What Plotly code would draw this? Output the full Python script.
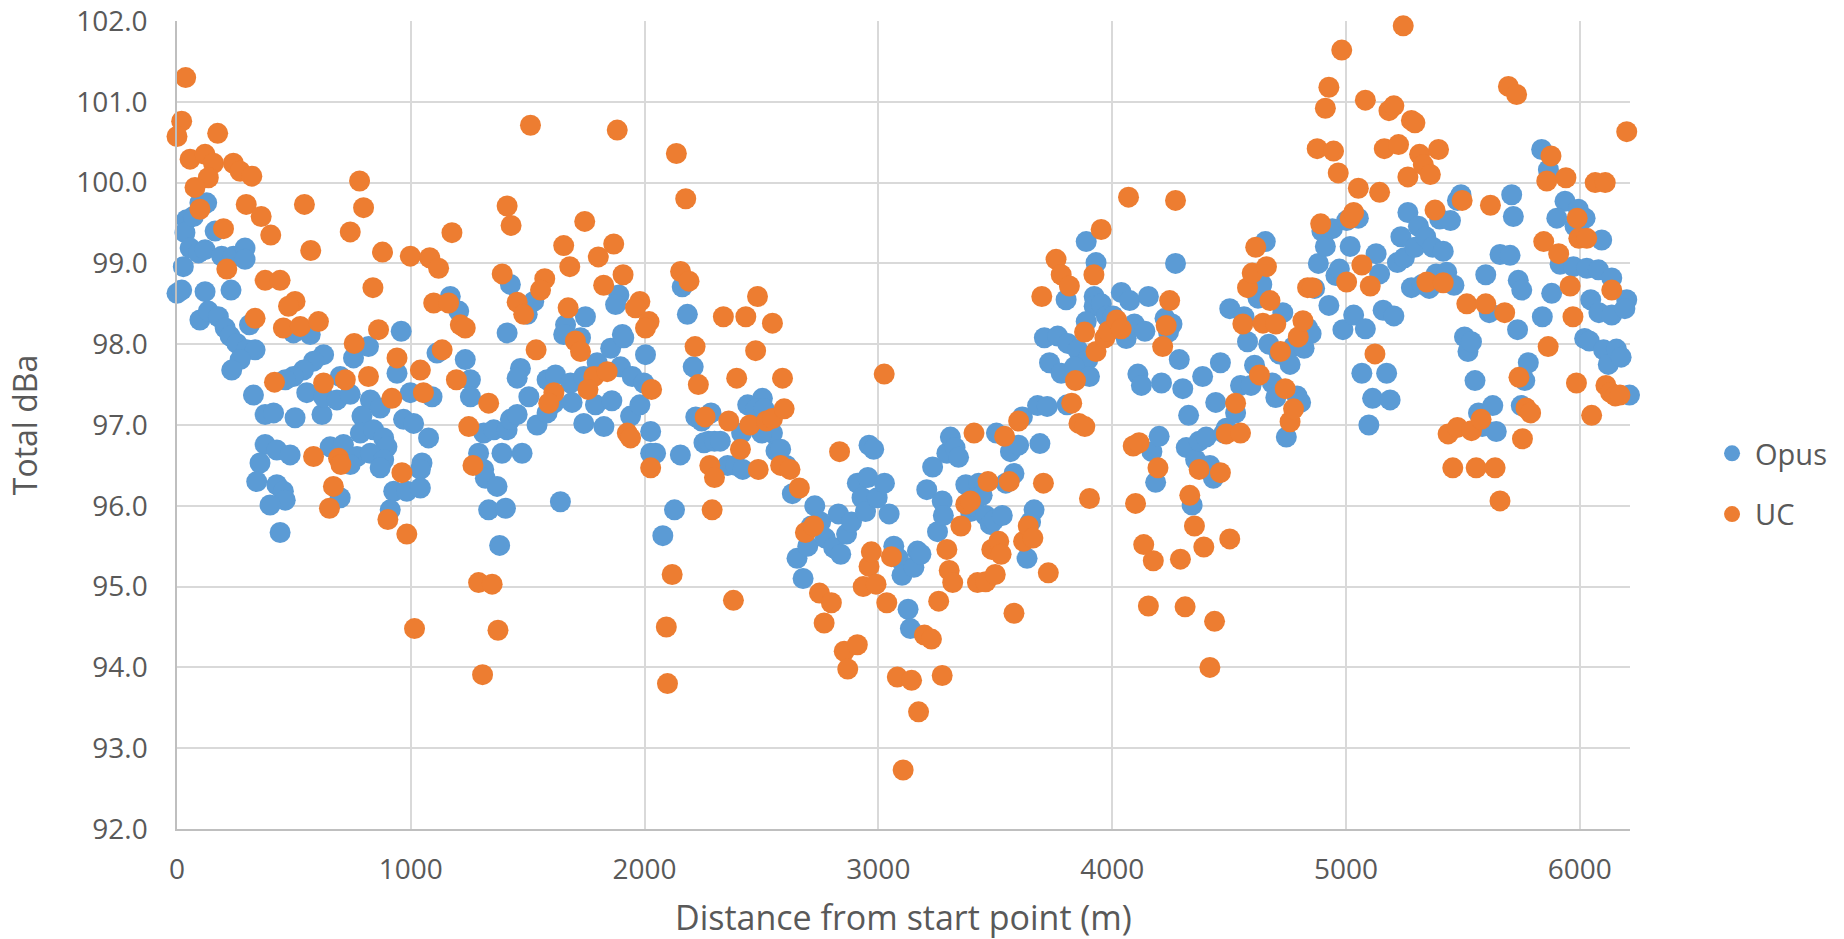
import plotly.graph_objects as go

# ---- data: (distance from start point [m], total dBa) ----
opus_pts = [
    (98, 99.75), (127, 99.75), (41, 99.54), (34, 99.38), (70, 99.58), (163, 99.40), (56, 99.19), (92, 99.13),
    (120, 99.17), (27, 98.96), (191, 99.09), (241, 99.09), (291, 99.19), (291, 99.05), (0, 98.63), (20, 98.67),
    (120, 98.65), (231, 98.67), (98, 98.30), (134, 98.41), (177, 98.34), (206, 98.20), (227, 98.10), (256, 98.01),
    (298, 97.93), (334, 97.93), (270, 97.81), (234, 97.68), (310, 98.24), (498, 98.14), (570, 98.12), (627, 97.87),
    (584, 97.79), (541, 97.68), (498, 97.60), (463, 97.56), (698, 97.60), (755, 97.83), (819, 97.97), (959, 98.16),
    (941, 97.64), (1112, 97.89), (1169, 98.59), (1205, 98.41), (1233, 97.81), (1255, 97.56), (1412, 98.14),
    (1426, 98.74), (1498, 98.37), (1526, 98.53), (1469, 97.70), (1455, 97.58), (1662, 98.24), (1654, 98.12),
    (1747, 98.34), (1726, 98.08), (1583, 97.56), (1619, 97.62), (1683, 97.52), (1740, 97.60), (1797, 97.77),
    (1855, 97.95), (1905, 98.12), (1890, 98.61), (1876, 98.49), (1897, 97.72), (1947, 97.60), (2004, 97.87),
    (1997, 97.52),
    (327, 97.37), (377, 97.13), (413, 97.15), (505, 97.09), (620, 97.13), (555, 97.40), (627, 97.35), (684, 97.31),
    (741, 97.38), (827, 97.31), (869, 97.21), (969, 97.07), (1012, 97.02), (998, 97.40), (1091, 97.35), (791, 97.11),
    (784, 96.90), (841, 96.94), (884, 96.84), (898, 96.73), (1076, 96.84), (377, 96.76), (427, 96.69), (484, 96.63),
    (655, 96.73), (712, 96.76), (770, 96.61), (827, 96.65), (884, 96.57), (355, 96.53), (869, 96.47), (1048, 96.53),
    (1041, 96.45), (741, 96.51), (341, 96.30), (427, 96.26), (455, 96.18), (463, 96.07), (398, 96.01), (441, 95.67),
    (698, 96.10), (927, 96.18), (983, 96.18), (1041, 96.22), (912, 95.95), (1255, 97.35), (1312, 96.90),
    (1355, 96.94), (1412, 96.94), (1426, 97.07), (1455, 97.13), (1290, 96.65), (1312, 96.45), (1319, 96.34),
    (1369, 96.24), (1390, 96.65), (1476, 96.65), (1333, 95.95), (1405, 95.97), (1380, 95.51), (1640, 96.05),
    (1505, 97.35), (1540, 97.00), (1583, 97.15), (1612, 97.27), (1740, 97.02), (1826, 96.98), (1940, 97.11),
    (2026, 96.92), (2026, 96.65), (1690, 97.28), (1790, 97.25), (1860, 97.30), (1980, 97.25),
    (2161, 98.71), (2183, 98.37), (2208, 97.72), (2504, 97.33), (1911, 98.08), (3889, 99.27), (3931, 99.01),
    (3923, 98.59), (3923, 98.47), (3803, 98.55), (3889, 98.28), (3710, 98.08), (3767, 98.10), (3810, 98.01),
    (3853, 97.93), (3896, 97.81), (3732, 97.77), (3782, 97.64), (3839, 97.72), (3903, 97.60), (3954, 98.50),
    (3975, 98.35), (3990, 98.20),
    (2047, 96.65), (2078, 95.63), (2128, 95.95), (2153, 96.63), (2219, 97.10), (2244, 97.05), (2254, 96.78),
    (2274, 96.80), (2299, 96.80), (2284, 97.15), (2324, 96.80), (2355, 96.50), (2390, 96.50), (2415, 96.90),
    (2441, 97.25), (2476, 97.20), (2511, 97.20), (2547, 96.90), (2562, 96.68), (2501, 96.90), (2420, 96.45),
    (2582, 96.70), (2607, 96.50), (2632, 96.15), (2652, 95.35), (2678, 95.10), (2698, 95.50), (2713, 95.75),
    (2728, 96.00), (2753, 95.80), (2773, 95.60), (2809, 95.48), (2829, 95.90), (2839, 95.40), (2864, 95.65),
    (2885, 95.80), (2910, 96.28), (2930, 96.10), (2945, 95.93), (2955, 96.35), (2960, 96.75), (2980, 96.70),
    (2995, 96.10), (3026, 96.28), (3046, 95.90), (3066, 95.50), (3086, 95.35), (3101, 95.14), (3127, 94.72),
    (3137, 94.48), (3152, 95.24), (3167, 95.44), (3182, 95.40), (3207, 96.20), (3232, 96.48), (3253, 95.68),
    (3273, 96.06), (3278, 95.88), (3293, 96.65), (3308, 96.85), (3328, 96.72), (3343, 96.60), (3374, 96.26),
    (3394, 95.93), (3409, 96.00), (3429, 96.28), (3444, 96.13), (3459, 95.88), (3479, 95.77), (3494, 95.82),
    (3505, 96.90), (3530, 95.88), (3545, 96.28), (3565, 96.67), (3580, 96.40), (3600, 96.75), (3616, 97.10),
    (3636, 95.35), (3651, 95.80), (3666, 95.95), (3681, 97.24), (3691, 96.77), (3722, 97.23), (3807, 97.25),
    (4004, 98.35), (4024, 98.23), (4039, 98.64), (4060, 98.07), (4075, 98.54), (4095, 98.25), (4110, 97.63),
    (4125, 97.49), (4140, 98.16), (4155, 98.59), (4170, 96.67), (4186, 96.29), (4201, 96.86), (4211, 97.52),
    (4226, 98.32), (4241, 98.15), (4256, 98.25), (4271, 99.00), (4287, 97.81), (4302, 97.45), (4317, 96.72),
    (4327, 97.12), (4342, 96.01), (4357, 96.57), (4372, 96.80), (4387, 97.60), (4402, 96.85), (4418, 96.50),
    (4433, 96.34), (4443, 97.28), (4463, 97.77), (4478, 96.90), (4488, 96.96), (4503, 98.44),
    (4528, 97.15), (4549, 97.49), (4564, 98.34), (4579, 98.03), (4594, 97.49), (4609, 97.74), (4624, 98.57),
    (4640, 98.74), (4655, 99.27), (4670, 98.00), (4685, 97.52), (4700, 97.34), (4715, 97.88), (4730, 98.39),
    (4745, 96.85), (4761, 97.75), (4776, 97.97), (4791, 97.36), (4806, 97.28), (4821, 97.95), (4836, 98.20),
    (4851, 98.13), (4866, 98.69), (4882, 99.00), (4897, 99.40), (4912, 99.21), (4927, 98.48), (4942, 99.43),
    (4957, 98.85), (4972, 98.93), (4987, 98.18), (5003, 99.53), (5018, 99.21),
    (5033, 98.36), (5053, 99.56), (5068, 97.64), (5083, 98.19), (5098, 97.00), (5114, 97.33), (5129, 99.12),
    (5144, 98.87), (5159, 98.42), (5174, 97.64), (5189, 97.31), (5205, 98.35), (5220, 99.01), (5235, 99.33),
    (5250, 99.07), (5265, 99.63), (5280, 98.70), (5295, 99.20), (5310, 99.46), (5326, 98.74), (5341, 99.33),
    (5356, 98.69), (5371, 99.20), (5386, 98.87), (5401, 99.55), (5416, 99.15), (5431, 98.89), (5447, 99.53),
    (5462, 98.73), (5477, 99.78), (5492, 99.85), (5507, 98.09), (5522, 97.91),
    (5537, 98.03), (5552, 97.55), (5567, 97.15), (5583, 96.98), (5598, 98.86), (5613, 98.39), (5628, 97.24),
    (5643, 96.92), (5659, 99.11),
    (5837, 100.41), (5866, 100.16), (5709, 99.85), (5716, 99.58), (5937, 99.77), (5994, 99.67), (6023, 99.56),
    (5902, 99.56), (5980, 99.46), (6094, 99.29), (6216, 99.52), (6216, 99.27), (5702, 99.10), (5737, 98.79),
    (5752, 98.67), (5916, 98.99), (5973, 98.96), (6030, 98.94), (6080, 98.92), (6137, 98.82), (5880, 98.63),
    (6047, 98.55), (6201, 98.55),
    (5734, 98.18), (5750, 97.24), (5765, 97.55), (5780, 97.77), (5840, 98.34), (6021, 98.07), (6041, 98.04),
    (6082, 98.39), (6102, 97.93), (6122, 97.75), (6137, 98.36), (6157, 97.94), (6177, 97.84), (6193, 98.44),
    (6213, 97.37),
]

uc_pts = [
    (37, 101.30), (20, 100.76), (0, 100.57), (174, 100.61), (56, 100.29), (120, 100.35), (156, 100.24),
    (134, 100.06), (77, 99.94), (241, 100.24), (270, 100.14), (320, 100.08), (98, 99.67), (296, 99.73),
    (360, 99.58), (199, 99.43), (401, 99.35), (545, 99.73), (572, 99.16), (213, 98.93), (377, 98.79),
    (441, 98.79), (505, 98.53), (477, 98.47), (334, 98.32), (455, 98.20), (527, 98.22), (605, 98.28),
    (781, 100.02), (798, 99.69), (741, 99.39), (879, 99.14), (838, 98.70), (862, 98.18), (758, 98.01),
    (941, 97.83), (819, 97.60), (1041, 97.68), (627, 97.52), (720, 97.56), (417, 97.53), (998, 99.09),
    (1081, 99.07), (1119, 98.94), (1176, 99.38), (1098, 98.51), (1162, 98.51), (1212, 98.24), (1233, 98.20),
    (1134, 97.93), (1195, 97.56), (1512, 100.71), (1883, 100.65), (1412, 99.71), (1429, 99.47), (1391, 98.87),
    (1455, 98.52), (1483, 98.37), (1573, 98.81), (1555, 98.67), (1654, 99.22), (1680, 98.96), (1744, 99.52),
    (1802, 99.08), (1868, 99.24), (1825, 98.73), (1908, 98.86), (1673, 98.45), (1536, 97.93), (1704, 98.04),
    (1726, 97.91), (1783, 97.60), (1840, 97.66), (1758, 97.44), (1612, 97.40),
    (919, 97.33), (1054, 97.40), (1333, 97.27), (1248, 96.98), (584, 96.61), (691, 96.59), (701, 96.51),
    (962, 96.41), (1266, 96.50), (669, 96.24), (652, 95.97), (902, 95.83), (983, 95.65), (1590, 97.27),
    (1926, 96.90), (1940, 96.84), (2026, 96.47), (1290, 95.05), (1348, 95.03), (1016, 94.48), (1373, 94.46),
    (1307, 93.91),
    (2136, 100.36), (2176, 99.80), (2154, 98.90), (2190, 98.78), (1980, 98.53), (1961, 98.45), (2019, 98.28),
    (2004, 98.20), (2483, 98.59), (2337, 98.34), (2433, 98.34), (2547, 98.26), (2216, 97.97), (2475, 97.92),
    (2030, 97.44), (2230, 97.50), (2394, 97.58), (2590, 97.58), (3025, 97.63), (3760, 99.05), (3782, 98.86),
    (3817, 98.72), (3699, 98.59), (3953, 99.42), (3922, 98.86), (3882, 98.15), (3931, 97.91), (3843, 97.55),
    (3827, 97.27), (3969, 98.08), (3984, 98.16),
    (2118, 95.15), (2093, 94.50), (2098, 93.80), (2259, 97.10), (2279, 96.50), (2299, 96.35), (2289, 95.95),
    (2380, 94.83), (2360, 97.05), (2410, 96.70), (2450, 97.00), (2486, 96.45), (2521, 97.05), (2547, 97.08),
    (2597, 97.20), (2582, 96.50), (2622, 96.45), (2662, 96.22), (2688, 95.67), (2723, 95.75), (2748, 94.92),
    (2768, 94.55), (2799, 94.80), (2834, 96.67), (2854, 94.20), (2869, 93.98), (2910, 94.28), (2935, 95.00),
    (2960, 95.25), (2970, 95.43), (2990, 95.03), (3036, 94.80), (3056, 95.37), (3081, 93.88), (3106, 92.73),
    (3142, 93.84), (3172, 93.45), (3197, 94.40), (3227, 94.35), (3258, 94.82), (3273, 93.90), (3293, 95.46),
    (3303, 95.20), (3318, 95.05), (3353, 95.75), (3374, 96.02), (3394, 96.06), (3409, 96.90), (3424, 95.05),
    (3459, 95.06), (3469, 96.30), (3485, 95.46), (3500, 95.15), (3515, 95.56), (3525, 95.40), (3540, 96.86),
    (3560, 96.30), (3580, 94.67), (3600, 97.05), (3621, 95.56), (3641, 95.75), (3661, 95.60), (3706, 96.28),
    (3727, 95.17), (3858, 97.02), (3883, 96.98), (3903, 96.09),
    (4019, 98.30), (4039, 98.19), (4070, 99.82), (4090, 96.74), (4100, 96.03), (4115, 96.78), (4135, 95.52),
    (4155, 94.76), (4176, 95.32), (4196, 96.47), (4216, 97.97), (4231, 98.23), (4246, 98.54), (4271, 99.78),
    (4292, 95.34), (4312, 94.75), (4332, 96.13), (4352, 95.75), (4372, 96.45), (4392, 95.49), (4418, 94.00),
    (4438, 94.57), (4463, 96.41), (4488, 96.89), (4503, 95.59),
    (4528, 97.27), (4549, 96.90), (4559, 98.25), (4579, 98.70), (4599, 98.88), (4614, 99.20), (4630, 97.62),
    (4645, 98.26), (4660, 98.96), (4675, 98.54), (4700, 98.25), (4720, 97.91), (4740, 97.45), (4761, 97.04),
    (4776, 97.20), (4796, 98.09), (4816, 98.29), (4836, 98.70), (4856, 98.70), (4877, 100.42), (4892, 99.49),
    (4912, 100.92), (4927, 101.18), (4947, 100.39), (4967, 100.12), (4982, 101.64), (5003, 98.77), (5018, 99.56),
    (5033, 99.63), (5053, 99.93), (5068, 98.98), (5083, 101.02), (5104, 98.72), (5124, 97.88), (5144, 99.88),
    (5164, 100.42), (5184, 100.89), (5205, 100.95), (5225, 100.47), (5245, 101.94), (5265, 100.07),
    (5280, 100.77), (5295, 100.74), (5315, 100.35), (5331, 100.22), (5346, 98.77), (5361, 100.10), (5381, 99.66),
    (5396, 100.41), (5416, 98.76), (5437, 96.89), (5457, 96.47), (5477, 96.97), (5497, 99.78), (5517, 98.50),
    (5537, 96.93), (5557, 96.47), (5578, 97.07), (5598, 98.50), (5618, 99.72), (5638, 96.47), (5659, 96.06),
    (5679, 98.39),
    (5695, 101.19), (5730, 101.09), (6201, 100.63), (5877, 100.33), (5859, 100.02), (5941, 100.06),
    (6066, 100.00), (6109, 100.00), (6218, 99.71), (5989, 99.56), (5846, 99.27), (5910, 99.12), (5996, 99.31),
    (6030, 99.31), (5959, 98.72), (6137, 98.67),
    (5740, 97.59), (5755, 96.83), (5770, 97.21), (5790, 97.15), (5865, 97.97), (5971, 98.34), (5986, 97.52),
    (6051, 97.12), (6112, 97.49), (6132, 97.40), (6152, 97.36), (6172, 97.37),
]

opus_x = [p[0] for p in opus_pts]
opus_y = [p[1] for p in opus_pts]
uc_x = [p[0] for p in uc_pts]
uc_y = [p[1] for p in uc_pts]

x_ticks = [0, 1000, 2000, 3000, 4000, 5000, 6000]
y_ticks = [92, 93, 94, 95, 96, 97, 98, 99, 100, 101, 102]

BLUE = "#5B9BD5"
ORANGE = "#ED7D31"
TEXT = "#595959"
GRID = "#D9D9D9"
FONT = "Open Sans"

fig = go.Figure()
fig.add_trace(go.Scatter(
    x=opus_x, y=opus_y, mode="markers", name="Opus", legendgroup="a",
    marker=dict(color=BLUE, size=21, line=dict(width=0)), cliponaxis=False,
))
fig.add_trace(go.Scatter(
    x=uc_x, y=uc_y, mode="markers", name="UC", legendgroup="b",
    marker=dict(color=ORANGE, size=21, line=dict(width=0)), cliponaxis=False,
))

fig.update_layout(
    width=1844, height=939,
    margin=dict(l=177, r=214, t=21, b=110, autoexpand=False),
    paper_bgcolor="white", plot_bgcolor="white",
    font=dict(family=FONT, size=28, color=TEXT),
    showlegend=True,
    legend=dict(
        x=1.0544, xanchor="left", y=0.427, yanchor="middle",
        font=dict(family=FONT, size=29, color=TEXT),
        tracegroupgap=20, itemsizing="trace", itemwidth=36,
        bgcolor="rgba(0,0,0,0)",
    ),
    xaxis=dict(
        range=[0, 6215], tickvals=x_ticks, ticktext=[str(v) for v in x_ticks],
        showgrid=True, gridcolor=GRID, gridwidth=1.5,
        showline=True, linecolor="#BFBFBF", linewidth=1.5,
        zeroline=False, ticks="", ticklabelstandoff=15, ticklabeloverflow="allow",
        tickfont=dict(family=FONT, size=28, color=TEXT),
    ),
    yaxis=dict(
        range=[92, 102], tickvals=y_ticks, ticktext=[f"{v:.1f}" for v in y_ticks],
        showgrid=True, gridcolor=GRID, gridwidth=1.5,
        showline=True, linecolor="#BFBFBF", linewidth=1.5,
        zeroline=False, ticks="", ticklabelstandoff=22, ticklabeloverflow="allow",
        tickfont=dict(family=FONT, size=28, color=TEXT),
        title=dict(text="Total dBa", standoff=29,
                   font=dict(family=FONT, size=32, color=TEXT)),
    ),
    annotations=[dict(
        text="Distance from start point (m)", xref="paper", yref="paper",
        x=0.5, y=0, xanchor="center", yanchor="middle", yshift=-88,
        showarrow=False, font=dict(family=FONT, size=34, color=TEXT),
    )],
)

# remove the default 8px page margin so the figure fills the window exactly
fig.write_html(
    "out.html",
    config={"displayModeBar": False},
    post_script="document.body.style.margin='0';",
)
